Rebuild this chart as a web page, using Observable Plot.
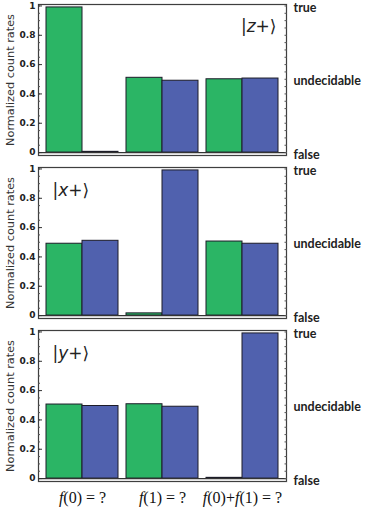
<!DOCTYPE html>
<html>
<head>
<meta charset="utf-8">
<script src="https://cdn.jsdelivr.net/npm/d3@7"></script>
<script src="https://cdn.jsdelivr.net/npm/@observablehq/plot@0.6"></script>
<style>
  html, body { margin: 0; padding: 0; background: #fff; }
  #chart svg { display: block; }
</style>
</head>
<body>
<div id="chart"></div>
<script>
// ---- data ----
const states = ["z", "x", "y"];
const stateLabels = ["|z+⟩", "|x+⟩", "|y+⟩"];
const questions = ["f(0) = ?", "f(1) = ?", "f(0)+f(1) = ?"];
const series = ["first", "second"];
// values[state][question] = [green, blue]
const zValues = [[0.99, 0.005], [0.51, 0.49], [0.50, 0.505]];
const xValues = [[0.49, 0.51], [0.015, 0.99], [0.505, 0.49]];
const yValues = [[0.505, 0.495], [0.507, 0.49], [0.005, 0.99]];
const rightLabels = ["false", "undecidable", "true"];
const rightTicks = [0, 0.5, 1];
const colors = ["#2bb565", "#5061ae"];

const allValues = {z: zValues, x: xValues, y: yValues};
const bars = [];
states.forEach(st => {
  allValues[st].forEach((pair, qi) => {
    pair.forEach((v, si) => {
      bars.push({state: st, q: qi, s: series[si], x1: qi + 0.1 + 0.45 * si, x2: qi + 0.55 + 0.45 * si, value: v});
    });
  });
});
const kets = states.map((st, i) => ({state: st, label: stateLabels[i], anchor: i === 0 ? "top-right" : "top-left"}));

const plot = Plot.plot({
  width: 373,
  height: 516,
  marginLeft: 38,
  marginRight: 87,
  marginTop: 3,
  marginBottom: 33,
  style: {fontFamily: "DejaVu Sans, sans-serif", background: "#fff"},
  x: {domain: [0, 3.1], axis: null},
  y: {domain: [-0.02, 1.01], axis: null},
  fy: {domain: states, axis: null, paddingInner: 0.073, paddingOuter: 0},
  color: {domain: series, range: colors},
  marks: [
    Plot.frame({stroke: "#b8b8b8", strokeWidth: 1.6}),
    Plot.frame({stroke: "#333", strokeWidth: 0.9}),
    Plot.rectY(bars, {x1: "x1", x2: "x2", y1: 0, y2: "value", fy: "state", fill: "s", stroke: "#1c1c28", strokeWidth: 1}),
    Plot.ruleY([0], {stroke: "#333", strokeWidth: 1.2}),
    // left minor/major ticks (inward)
    Plot.axisY({anchor: "left", label: null, ticks: d3.range(0, 1.0001, 0.05), tickSize: -2, tickFormat: null, text: null, stroke: "#555"}),
    Plot.axisY({anchor: "left", label: null, ticks: d3.range(0, 1.0001, 0.2), tickSize: -4, tickFormat: null, text: null, stroke: "#333"}),
    Plot.axisY({anchor: "left", label: null, ticks: d3.range(0, 1.0001, 0.2), tickSize: 0, tickPadding: 3,
      tickFormat: d => d === 0 || d === 1 ? String(d) : d.toFixed(1), fontSize: 9, fontWeight: "bold", fill: "#222"}),
    // right ticks (inward)
    Plot.axisY({anchor: "right", label: null, ticks: d3.range(0, 1.0001, 0.05), tickSize: -2.5, tickFormat: null, text: null, stroke: "#555"}),
    Plot.axisY({anchor: "right", label: null, ticks: rightTicks, tickSize: 0, tickPadding: 7, dy: 2,
      tickFormat: d => rightLabels[rightTicks.indexOf(d)], fontSize: 12.5, fontWeight: "bold", fill: "#222", fontFamily: "Lato, sans-serif"}),
    // y axis title per panel
    Plot.text(states, {fy: d => d, text: () => "Normalized count rates", frameAnchor: "left", textAnchor: "middle", rotate: -90, dx: -28, fontSize: 11.3, fill: "#333"}),
    // ket labels
    Plot.text(kets, {fy: "state", text: "label", frameAnchor: "top-right", filter: d => d.anchor === "top-right", dx: -10, dy: 15, textAnchor: "end", fontSize: 17, fill: "#222", fontFamily: "DejaVu Sans, sans-serif"}),
    Plot.text(kets, {fy: "state", text: "label", frameAnchor: "top-left", filter: d => d.anchor === "top-left", dx: 14, dy: 16, textAnchor: "start", fontSize: 17, fill: "#222", fontFamily: "DejaVu Sans, sans-serif"}),
    // bottom category axis
    Plot.axisX({anchor: "bottom", label: null, ticks: [0.55, 1.55, 2.55], tickSize: 0, tickPadding: 10,
      tickFormat: d => questions[Math.round(d - 0.55)], fontSize: 16, fill: "#111", fontFamily: "Liberation Serif, serif"})
  ]
});
document.getElementById("chart").appendChild(plot);

// italicize function/letter symbols in text labels
d3.select(plot).selectAll("text").each(function() {
  const el = d3.select(this);
  const t = el.text();
  if (questions.includes(t)) {
    el.text(null);
    const parts = t.split(/(f)/);
    parts.forEach(p => { if (p) el.append("tspan").attr("font-style", p === "f" ? "italic" : null).text(p); });
  } else if (stateLabels.includes(t)) {
    el.text(null);
    el.append("tspan").text("|");
    el.append("tspan").attr("font-style", "italic").text(t[1]);
    el.append("tspan").text("+⟩");
  }
});
</script>
</body>
</html>
